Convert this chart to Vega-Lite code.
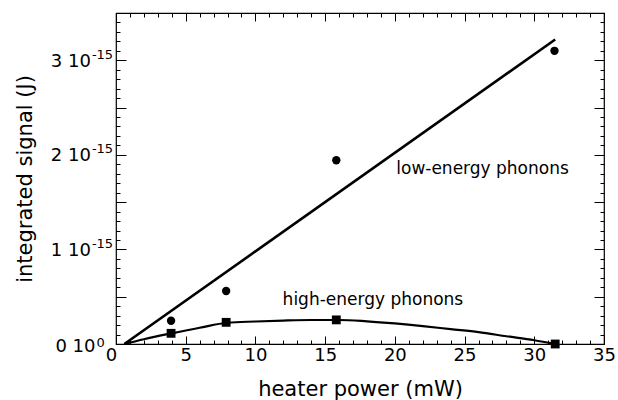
{
  "$schema": "https://vega.github.io/schema/vega-lite/v6.json",
  "width": 488,
  "height": 331,
  "autosize": "none",
  "padding": {"left": 116, "top": 13, "right": 14, "bottom": 56},
  "config": {
    "view": {"stroke": "black", "strokeWidth": 1.2},
    "font": "DejaVu Sans",
    "axis": {"tickColor": "black", "labelColor": "black", "titleColor": "black", "grid": false, "domain": false, "tickWidth": 1}
  },
  "datasets": {
    "low": [
      {"x": 3.95, "y": 2.46e-16},
      {"x": 7.9, "y": 5.6e-16},
      {"x": 15.8, "y": 1.943e-15},
      {"x": 31.45, "y": 3.1e-15}
    ],
    "high": [
      {"x": 3.95, "y": 1.13e-16},
      {"x": 7.9, "y": 2.29e-16},
      {"x": 15.8, "y": 2.55e-16},
      {"x": 31.5, "y": 0}
    ],
    "lowfit": [
      {"x": 0.6, "y": 0},
      {"x": 31.5, "y": 3.22e-15}
    ],
    "highfit": [
      {"x": 0.6, "y": 0},
      {"x": 2, "y": 5.0e-17},
      {"x": 4, "y": 1.13e-16},
      {"x": 6, "y": 1.72e-16},
      {"x": 8, "y": 2.25e-16},
      {"x": 10, "y": 2.38e-16},
      {"x": 12, "y": 2.48e-16},
      {"x": 14, "y": 2.54e-16},
      {"x": 16, "y": 2.54e-16},
      {"x": 18, "y": 2.4e-16},
      {"x": 20, "y": 2.18e-16},
      {"x": 22, "y": 1.9e-16},
      {"x": 24, "y": 1.57e-16},
      {"x": 26, "y": 1.25e-16},
      {"x": 28, "y": 8.2e-17},
      {"x": 30, "y": 4.0e-17},
      {"x": 31.5, "y": 0}
    ],
    "labels": [
      {"x": 20.1, "y": 1.85e-15, "text": "low-energy phonons"},
      {"x": 11.95, "y": 4.7e-16, "text": "high-energy phonons"}
    ]
  },
  "resolve": {"axis": {"x": "independent", "y": "independent"}},
  "layer": [
    {
      "data": {"name": "low"},
      "mark": {"type": "point", "opacity": 0},
      "encoding": {
        "x": {"field": "x", "type": "quantitative", "scale": {"domain": [0, 35], "nice": false, "zero": false},
          "axis": {"orient": "bottom", "values": [0, 5, 10, 15, 20, 25, 30, 35], "ticks": false, "labelPadding": 2, "labelFontSize": 18, "labelFlush": false, "labelOverlap": false,
            "labelOffset": {"condition": {"test": "datum.value == 0", "value": -5}, "value": 0},
            "title": "heater power (mW)", "titleFontSize": 21, "titleFontWeight": "normal", "titlePadding": 14}},
        "y": {"field": "y", "type": "quantitative", "scale": {"domain": [0, 3.5e-15], "nice": false, "zero": true},
          "axis": {"orient": "left", "values": [0, 1e-15, 2e-15, 3e-15], "ticks": false, "labelFontSize": 18, "labelFlush": false, "labelOverlap": false,
            "labelPadding": {"condition": {"test": "datum.value == 0", "value": 21}, "value": 25.6},
            "labelOffset": {"condition": {"test": "datum.value == 0", "value": 2}, "value": 1},
            "labelExpr": "round(datum.value * 1e15) + ' 10'",
            "title": "integrated signal (J)", "titleFontSize": 21, "titleFontWeight": "normal", "titlePadding": 15}}
      }
    },
    {
      "data": {"name": "low"},
      "mark": {"type": "point", "opacity": 0},
      "encoding": {
        "x": {"field": "x", "type": "quantitative", "scale": {"domain": [0, 35], "nice": false, "zero": false}, "axis": null},
        "y": {"field": "y", "type": "quantitative", "scale": {"domain": [0, 3.5e-15], "nice": false, "zero": true},
          "axis": {"orient": "left", "values": [0, 1e-15, 2e-15, 3e-15], "ticks": false, "labelFontSize": 13, "labelFlush": false, "labelOverlap": false,
            "labelAlign": "left",
            "labelPadding": {"condition": {"test": "datum.value == 0", "value": 20}, "value": 24.6},
            "labelOffset": {"condition": {"test": "datum.value == 0", "value": -2}, "value": -6},
            "labelExpr": "datum.value == 0 ? '0' : '-15'",
            "title": null}}
      }
    },
    {
      "data": {"name": "low"},
      "mark": {"type": "point", "opacity": 0},
      "encoding": {
        "x": {"field": "x", "type": "quantitative", "scale": {"domain": [0, 35], "nice": false, "zero": false},
          "axis": {"orient": "bottom", "values": [0,1,2,3,4,5,6,7,8,9,10,11,12,13,14,15,16,17,18,19,20,21,22,23,24,25,26,27,28,29,30,31,32,33,34,35], "labels": false, "tickSize": -4, "title": null}},
        "y": {"field": "y", "type": "quantitative", "scale": {"domain": [0, 3.5e-15], "nice": false, "zero": true},
          "axis": {"orient": "left", "values": [0,1e-16,2e-16,3e-16,4e-16,5e-16,6e-16,7e-16,8e-16,9e-16,1e-15,1.1e-15,1.2e-15,1.3e-15,1.4e-15,1.5e-15,1.6e-15,1.7e-15,1.8e-15,1.9e-15,2e-15,2.1e-15,2.2e-15,2.3e-15,2.4e-15,2.5e-15,2.6e-15,2.7e-15,2.8e-15,2.9e-15,3e-15,3.1e-15,3.2e-15,3.3e-15,3.4e-15,3.5e-15], "labels": false, "tickSize": -4, "title": null}}
      }
    },
    {
      "data": {"name": "low"},
      "mark": {"type": "point", "opacity": 0},
      "encoding": {
        "x": {"field": "x", "type": "quantitative", "scale": {"domain": [0, 35], "nice": false, "zero": false},
          "axis": {"orient": "bottom", "values": [0, 5, 10, 15, 20, 25, 30, 35], "labels": false, "tickSize": -8, "title": null}},
        "y": {"field": "y", "type": "quantitative", "scale": {"domain": [0, 3.5e-15], "nice": false, "zero": true},
          "axis": {"orient": "left", "values": [0, 5e-16, 1e-15, 1.5e-15, 2e-15, 2.5e-15, 3e-15, 3.5e-15], "labels": false, "tickSize": -10, "title": null}}
      }
    },
    {
      "data": {"name": "low"},
      "mark": {"type": "point", "opacity": 0},
      "encoding": {
        "x": {"field": "x", "type": "quantitative", "scale": {"domain": [0, 35], "nice": false, "zero": false},
          "axis": {"orient": "top", "values": [0,1,2,3,4,5,6,7,8,9,10,11,12,13,14,15,16,17,18,19,20,21,22,23,24,25,26,27,28,29,30,31,32,33,34,35], "labels": false, "tickSize": -4, "title": null}},
        "y": {"field": "y", "type": "quantitative", "scale": {"domain": [0, 3.5e-15], "nice": false, "zero": true},
          "axis": {"orient": "right", "values": [0,1e-16,2e-16,3e-16,4e-16,5e-16,6e-16,7e-16,8e-16,9e-16,1e-15,1.1e-15,1.2e-15,1.3e-15,1.4e-15,1.5e-15,1.6e-15,1.7e-15,1.8e-15,1.9e-15,2e-15,2.1e-15,2.2e-15,2.3e-15,2.4e-15,2.5e-15,2.6e-15,2.7e-15,2.8e-15,2.9e-15,3e-15,3.1e-15,3.2e-15,3.3e-15,3.4e-15,3.5e-15], "labels": false, "tickSize": -4, "title": null}}
      }
    },
    {
      "data": {"name": "low"},
      "mark": {"type": "point", "opacity": 0},
      "encoding": {
        "x": {"field": "x", "type": "quantitative", "scale": {"domain": [0, 35], "nice": false, "zero": false},
          "axis": {"orient": "top", "values": [0, 5, 10, 15, 20, 25, 30, 35], "labels": false, "tickSize": -8, "title": null}},
        "y": {"field": "y", "type": "quantitative", "scale": {"domain": [0, 3.5e-15], "nice": false, "zero": true},
          "axis": {"orient": "right", "values": [0, 5e-16, 1e-15, 1.5e-15, 2e-15, 2.5e-15, 3e-15, 3.5e-15], "labels": false, "tickSize": -10, "title": null}}
      }
    },
    {
      "data": {"name": "lowfit"},
      "mark": {"type": "line", "color": "black", "strokeWidth": 2.6},
      "encoding": {
        "x": {"field": "x", "type": "quantitative", "axis": null},
        "y": {"field": "y", "type": "quantitative", "axis": null}
      }
    },
    {
      "data": {"name": "highfit"},
      "mark": {"type": "line", "color": "black", "strokeWidth": 2.2, "interpolate": "monotone"},
      "encoding": {
        "x": {"field": "x", "type": "quantitative", "axis": null},
        "y": {"field": "y", "type": "quantitative", "axis": null}
      }
    },
    {
      "data": {"name": "low"},
      "mark": {"type": "point", "shape": "circle", "filled": true, "color": "black", "opacity": 1, "size": 70},
      "encoding": {
        "x": {"field": "x", "type": "quantitative", "axis": null},
        "y": {"field": "y", "type": "quantitative", "axis": null}
      }
    },
    {
      "data": {"name": "high"},
      "mark": {"type": "point", "shape": "square", "filled": true, "color": "black", "opacity": 1, "size": 78},
      "encoding": {
        "x": {"field": "x", "type": "quantitative", "axis": null},
        "y": {"field": "y", "type": "quantitative", "axis": null}
      }
    },
    {
      "data": {"name": "labels"},
      "mark": {"type": "text", "align": "left", "baseline": "middle", "fontSize": 17, "font": "DejaVu Sans", "color": "black"},
      "encoding": {
        "x": {"field": "x", "type": "quantitative", "axis": null},
        "y": {"field": "y", "type": "quantitative", "axis": null},
        "text": {"field": "text", "type": "nominal"}
      }
    }
  ]
}
